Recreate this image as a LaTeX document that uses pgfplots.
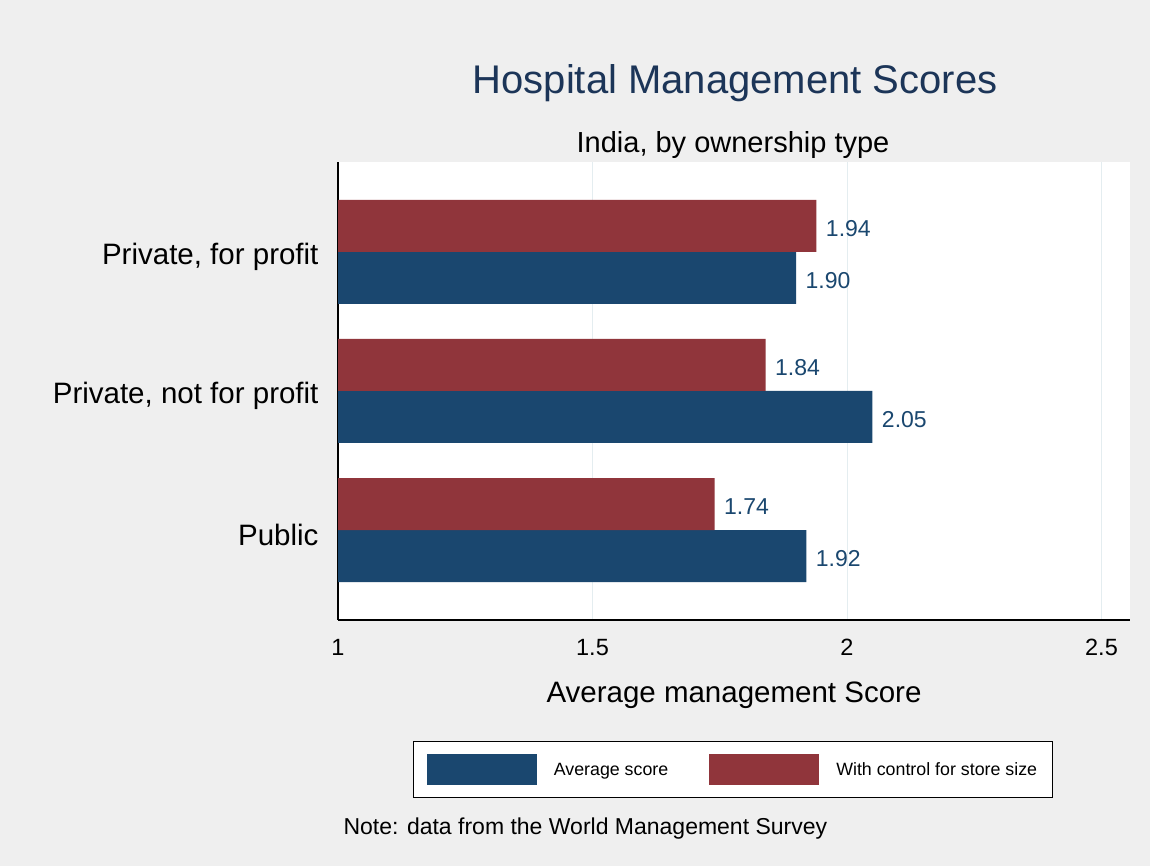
\documentclass[border=0pt]{standalone}
\usepackage{pgfplots}
\pgfplotsset{compat=1.18}
\usepackage{fontspec}
\setmainfont{Liberation Sans}
\definecolor{navy}{HTML}{1A476F}
\definecolor{maroon}{HTML}{90353B}
\definecolor{titlec}{HTML}{1C3558}
\definecolor{bg}{HTML}{EFEFEF}
\definecolor{gridc}{HTML}{E4EDF0}
\begin{document}
\begin{tikzpicture}[x=1pt,y=1pt]
\fill[bg] (0,0) rectangle (1150,866);
\node[font=\fontsize{40}{48}\selectfont, text=titlec] at (735,783) {Hospital Management Scores};
\node[font=\fontsize{29}{34}\selectfont] at (733,721) {India, by ownership type};
\node[anchor=west, font=\fontsize{23}{27}\selectfont] at (340,37) {Note: data from the World Management Survey};
\begin{axis}[
  at={(338pt,246pt)}, anchor=south west,
  width=792pt, height=458pt, scale only axis,
  /pgf/number format/assume math mode=true,
  xbar, bar width=0.374,
  xmin=1, xmax=2.556, ymin=-0.647, ymax=2.647,
  axis background/.style={fill=white},
  axis x line*=bottom, axis y line*=left,
  axis line style={line width=1.5pt, black, -},
  xtick={1,1.5,2,2.5}, xticklabels={1,1.5,2,2.5},
  ytick={0,1,2}, yticklabels={Public,{Private, not for profit},{Private, for profit}},
  major tick length=0pt,
  xmajorgrids, major grid style={gridc, line width=1pt},
  xticklabel style={font=\fontsize{23.5}{27}\selectfont, yshift=-16pt},
  yticklabel style={font=\fontsize{29.5}{34}\selectfont, xshift=-16pt, yshift=-5pt},
  xlabel={Average management Score},
  xlabel style={font=\fontsize{29.5}{34}\selectfont, yshift=-19pt},
  nodes near coords,
  nodes near coords style={font=\fontsize{23}{27}\selectfont, text=navy, anchor=west, xshift=6pt, yshift=-3pt,
    /pgf/number format/fixed, /pgf/number format/fixed zerofill, /pgf/number format/precision=2},
  legend columns=2,
  legend style={at={(0.4987,-0.3275)}, anchor=center, draw=black, line width=1pt, fill=white,
    font=\fontsize{17.8}{21}\selectfont, inner xsep=13pt, inner ysep=12.5pt,
    /tikz/every odd column/.append style={column sep=15pt},
    /tikz/every even column/.append style={column sep=39pt}},
  legend image code/.code={\fill[#1] (0pt,-15.5pt) rectangle (110pt,15.5pt);},
]
\addplot[fill=navy, draw=none, bar shift=-0.187] coordinates {(1.92,0) (2.05,1) (1.90,2)};
\addlegendentry{Average score}
\addplot[fill=maroon, draw=none, bar shift=0.187] coordinates {(1.74,0) (1.84,1) (1.94,2)};
\addlegendentry{With control for store size\hspace{4pt}}
\end{axis}
\end{tikzpicture}
\end{document}
